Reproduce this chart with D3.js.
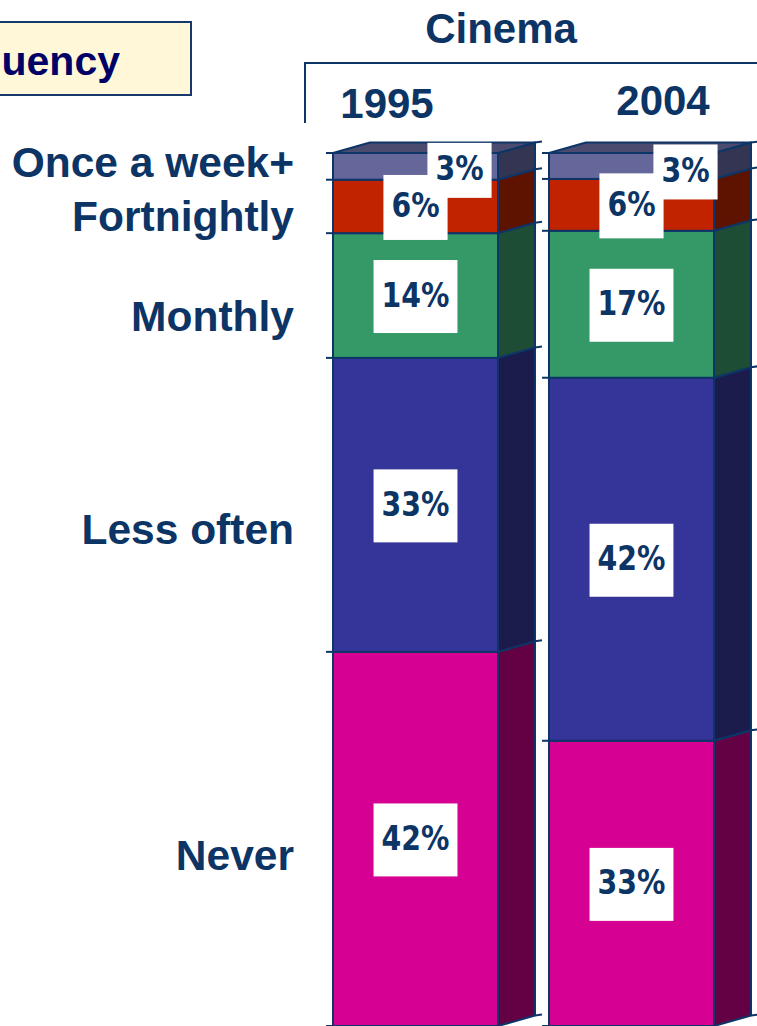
<!DOCTYPE html>
<html>
<head>
<meta charset="utf-8">
<script src="https://cdn.jsdelivr.net/npm/d3@7/dist/d3.min.js"></script>
<style>
  html, body { margin: 0; padding: 0; background: #ffffff; }
  svg { display: block; }
</style>
</head>
<body>
<svg id="chart" width="757" height="1026"></svg>
<script>
// Cinema-going frequency, share of respondents by year
const categories = ["Once a week+", "Fortnightly", "Monthly", "Less often", "Never"];
const years = ["1995", "2004"];
const values1995 = [3, 6, 14, 33, 42];
const values2004 = [3, 6, 17, 42, 33];
const seriesByYear = { "1995": values1995, "2004": values2004 };

const frontColors = ["#656699", "#c12200", "#349966", "#343499", "#d60093"];
const sideColors  = ["#343552", "#5e1300", "#1d4d34", "#1b1c4c", "#640044"];
const topColor = "#4b4b70";
const edge = "#0e3567";
const ink = "#0c3465";

const depthX = 37, depthY = -10.5;

const svg = d3.select("#chart");

const x = d3.scaleBand().domain(years).range([333, 714]).paddingInner(0.236).paddingOuter(0);
const y = d3.scaleLinear().domain([0, 1]).range([1026, 153]);

// stack segments from the bottom (Never) to the top (Once a week+)
function segmentsFor(year) {
  const vals = seriesByYear[year];
  const total = d3.sum(vals);
  const segs = [];
  let cum = 0;
  for (let i = categories.length - 1; i >= 0; i--) {
    const s0 = cum / total;
    cum += vals[i];
    const s1 = cum / total;
    segs.push({ year, index: i, category: categories[i], value: vals[i], s0, s1 });
  }
  return segs;
}

const bars = svg.append("g").attr("class", "bars");

years.forEach(year => {
  const segs = segmentsFor(year);
  const x0 = x(year), x1 = x0 + x.bandwidth();
  const g = bars.append("g").attr("class", "bar-" + year);

  segs.forEach(d => {
    const yTop = y(d.s1), yBot = y(d.s0);
    g.append("rect")
      .attr("x", x0).attr("y", yTop)
      .attr("width", x1 - x0).attr("height", yBot - yTop)
      .attr("fill", frontColors[d.index])
      .attr("stroke", edge).attr("stroke-width", 2);
    g.append("polygon")
      .attr("points", [[x1, yTop], [x1 + depthX, yTop + depthY], [x1 + depthX, yBot + depthY], [x1, yBot]].join(" "))
      .attr("fill", sideColors[d.index])
      .attr("stroke", edge).attr("stroke-width", 2).attr("stroke-linejoin", "round");
  });

  // top face
  const yT = y(1);
  g.append("polygon")
    .attr("points", [[x0, yT], [x0 + depthX, yT + depthY], [x1 + depthX, yT + depthY], [x1, yT]].join(" "))
    .attr("fill", topColor)
    .attr("stroke", edge).attr("stroke-width", 2).attr("stroke-linejoin", "round");

  // small tick marks at every boundary
  const bounds = [0].concat(segs.map(d => d.s1));
  bounds.forEach(s => {
    const yy = y(s);
    g.append("line").attr("x1", x0 - 7).attr("x2", x0).attr("y1", yy).attr("y2", yy)
      .attr("stroke", edge).attr("stroke-width", 2);
    g.append("line").attr("x1", x1 + depthX).attr("x2", x1 + depthX + 7)
      .attr("y1", yy + depthY).attr("y2", yy + depthY - 1)
      .attr("stroke", edge).attr("stroke-width", 2);
  });
});

// value labels on white boxes
const labelFont = "'DejaVu Sans', Verdana, sans-serif";
const labelSqueeze = 0.86;
const topNudge = { "1995": [44, 3], "2004": [54, 5] };
const labels = svg.append("g").attr("class", "value-labels");

years.forEach(year => {
  const segs = segmentsFor(year);
  const cx0 = x(year) + x.bandwidth() / 2;
  // draw the upper-most labels last so they sit on top
  segs.slice().sort((a, b) => b.index - a.index).forEach(d => {
    let cx = cx0, cy = (y(d.s0) + y(d.s1)) / 2;
    if (d.index === 0) { cx += topNudge[year][0]; cy += topNudge[year][1]; }
    const g = labels.append("g");
    const t = g.append("text")
      .attr("transform", `translate(${cx},${cy + 11}) scale(${labelSqueeze},1)`)
      .attr("text-anchor", "middle")
      .attr("font-family", labelFont).attr("font-weight", "bold")
      .attr("font-size", 33).attr("fill", ink)
      .text(d.value + "%");
    const tw = t.node().getComputedTextLength() * labelSqueeze;
    const bh = d.value <= 3 ? 55 : (d.value <= 6 ? 65 : 73);
    const bw = tw + 16;
    g.insert("rect", "text")
      .attr("x", cx - bw / 2).attr("y", cy - bh / 2 + 1)
      .attr("width", bw).attr("height", bh)
      .attr("fill", "#ffffff");
  });
});

// category labels beside the first bar
const catNudge = [-3, 11, 21, 25, 17];
const segs95 = segmentsFor(years[0]);
const catG = svg.append("g").attr("class", "category-labels");
segs95.forEach(d => {
  const cy = (y(d.s0) + y(d.s1)) / 2;
  catG.append("text")
    .attr("x", 294).attr("y", cy + 14 + catNudge[d.index])
    .attr("text-anchor", "end")
    .attr("font-family", "'Liberation Sans', Arial, sans-serif")
    .attr("font-weight", "bold").attr("font-size", 42.5)
    .attr("fill", ink)
    .text(d.category);
});

// panel heading and year headers
svg.append("path")
  .attr("d", "M305,123 V63 H757")
  .attr("fill", "none").attr("stroke", edge).attr("stroke-width", 2);

svg.append("text")
  .attr("x", 501).attr("y", 43)
  .attr("text-anchor", "middle")
  .attr("font-family", "'Liberation Sans', Arial, sans-serif")
  .attr("font-weight", "bold").attr("font-size", 42).attr("fill", ink)
  .text("Cinema");

const yearBase = { "1995": 118, "2004": 115 };
const yearCx = { "1995": 387, "2004": 663 };
years.forEach(yr => {
  svg.append("text")
    .attr("x", yearCx[yr]).attr("y", yearBase[yr])
    .attr("text-anchor", "middle")
    .attr("font-family", "'Liberation Sans', Arial, sans-serif")
    .attr("font-weight", "bold").attr("font-size", 42).attr("fill", ink)
    .text(yr);
});

// legend caption box
svg.append("rect")
  .attr("x", -20).attr("y", 22).attr("width", 211).attr("height", 73)
  .attr("fill", "#fff7d8").attr("stroke", "#17386b").attr("stroke-width", 2);
svg.append("text")
  .attr("x", 120).attr("y", 75)
  .attr("text-anchor", "end")
  .attr("font-family", "'Liberation Sans', Arial, sans-serif")
  .attr("font-weight", "bold").attr("font-size", 41).attr("fill", "#000066")
  .text("Frequency");
</script>
</body>
</html>
